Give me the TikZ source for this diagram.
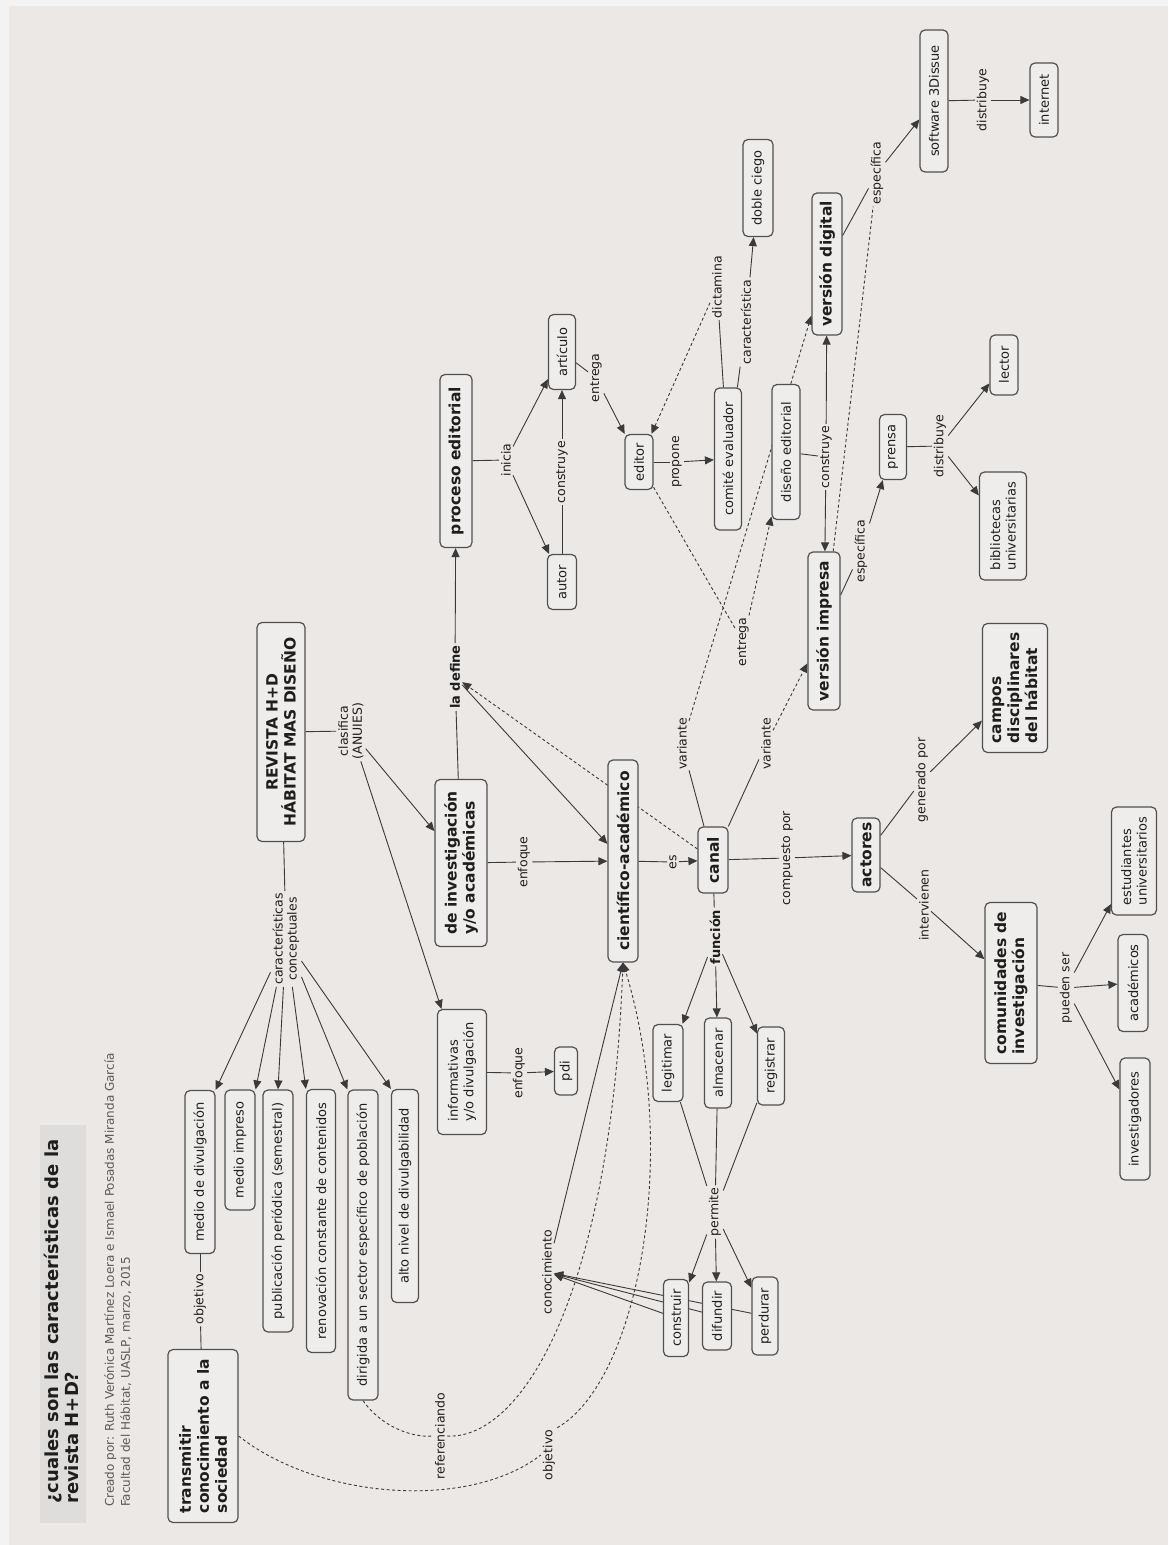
\documentclass[tikz,border=0pt]{standalone}
\usepackage{fontspec}
\setmainfont{DejaVu Sans}
\usetikzlibrary{arrows.meta}
\pgfdeclarelayer{back}
\pgfdeclarelayer{edges}
\pgfsetlayers{back,edges,main}
\definecolor{outerbg}{HTML}{F3F3F3}
\definecolor{panel}{HTML}{EBE8E5}
\definecolor{boxfill}{HTML}{EEEDEB}
\definecolor{boxline}{HTML}{505050}
\definecolor{ink}{HTML}{1E1E1E}
\definecolor{lnk}{HTML}{3A3A3A}
\definecolor{titlebg}{HTML}{DFDDDB}
\definecolor{credit}{HTML}{5A5A5A}
\tikzset{
  concept/.style={draw=boxline, line width=1.2pt, rounded corners=5pt, fill=boxfill, rotate=90, text=ink, font=\fontsize{13}{15.5}\selectfont, align=center, inner sep=0pt},
  bconcept/.style={concept, font=\fontsize{15.5}{18}\selectfont\bfseries},
  lab/.style={rotate=90, text=ink, font=\fontsize{12.5}{14}\selectfont, align=center, inner sep=2pt},
  blab/.style={lab, font=\fontsize{13}{15}\selectfont\bfseries},
  ln/.style={draw=lnk, line width=0.9pt},
  arr/.style={ln, -{Triangle[length=9pt,width=8pt]}},
  dsh/.style={dash pattern=on 3pt off 2.5pt},
}
\begin{document}
\begin{tikzpicture}[x=1pt,y=-1pt]
\useasboundingbox (0,0) rectangle (1168,1545);
\begin{pgfonlayer}{back}
\fill[outerbg] (0,0) rectangle (1168,1545);
\fill[panel] (9,6) rectangle (1168,1545);
\fill[titlebg] (40,1125) rectangle (86,1523);
\end{pgfonlayer}

% title and credits
\node[rotate=90, anchor=north west, align=left, font=\fontsize{18}{20}\selectfont\bfseries, inner sep=0pt, text=ink] (title) at (44,1504) {¿cuales son las características de la\\revista H+D?};
\node[rotate=90, anchor=north west, align=left, font=\fontsize{12}{16}\selectfont, inner sep=0pt, text=credit] (cred) at (104,1507) {Creado por: Ruth Verónica Martínez Loera e Ismael Posadas Miranda García\\Facultad del Hábitat, UASLP, marzo, 2015};

% concepts
\node[bconcept, align=left, minimum width=173pt, minimum height=70pt] (tr) at (203,1436) {transmitir\\conocimiento a la\\sociedad};
\node[concept, minimum width=163pt, minimum height=30pt] (md) at (200,1172) {medio de divulgación};
\node[concept, minimum width=120pt, minimum height=30pt] (mi) at (240,1150) {medio impreso};
\node[concept, minimum width=242pt, minimum height=30pt] (pp) at (278,1211) {publicación periódica (semestral)};
\node[concept, minimum width=263pt, minimum height=29pt] (rc) at (321,1221) {renovación constante de contenidos};
\node[concept, minimum width=310pt, minimum height=30pt] (dg) at (363,1245) {dirigida a un sector específico de población};
\node[concept, minimum width=213pt, minimum height=27pt] (an) at (405,1196) {alto nivel de divulgabilidad};

\node[bconcept, minimum width=219pt, minimum height=48pt] (RT) at (281,732) {REVISTA H+D\\HÁBITAT MAS DISEÑO};
\node[bconcept, align=left, minimum width=167pt, minimum height=52pt] (di) at (461,863) {de investigación\\y/o académicas};
\node[concept, align=left, minimum width=125pt, minimum height=49pt] (inf) at (462,1072) {informativas\\y/o divulgación};
\node[concept, minimum width=48pt, minimum height=23pt] (pdi) at (566,1071) {pdi};
\node[bconcept, minimum width=202pt, minimum height=30pt] (ca) at (623,861) {científico-académico};
\node[bconcept, minimum width=66pt, minimum height=30pt] (canal) at (713,860) {canal};
\node[bconcept, minimum width=173pt, minimum height=32pt] (pe) at (456,461) {proceso editorial};
\node[concept, minimum width=55pt, minimum height=29pt] (autor) at (562,582) {autor};
\node[concept, minimum width=75pt, minimum height=27pt] (art) at (562,352) {artículo};
\node[concept, minimum width=55pt, minimum height=28pt] (ed) at (639,462) {editor};
\node[concept, minimum width=142pt, minimum height=27pt] (ce) at (728,459) {comité evaluador};
\node[concept, minimum width=97pt, minimum height=30pt] (dc) at (758,188) {doble ciego};
\node[concept, minimum width=135pt, minimum height=28pt] (de) at (786,452) {diseño editorial};
\node[bconcept, minimum width=158pt, minimum height=32pt] (vi) at (824,631) {versión impresa};
\node[bconcept, minimum width=142pt, minimum height=30pt] (vd) at (827,264) {versión digital};
\node[concept, minimum width=142pt, minimum height=28pt] (sw) at (934,101) {software 3Dissue};
\node[concept, minimum width=74pt, minimum height=28pt] (int) at (1044,100) {internet};
\node[concept, minimum width=65pt, minimum height=27pt] (pr) at (893,447) {prensa};
\node[concept, minimum width=60pt, minimum height=28pt] (lec) at (1004,365) {lector};
\node[concept, align=left, minimum width=108pt, minimum height=47pt] (bib) at (1003,526) {bibliotecas\\universitarias};
\node[bconcept, align=left, minimum width=129pt, minimum height=65pt] (cd) at (1015,688) {campos\\disciplinares\\del hábitat};
\node[bconcept, minimum width=74pt, minimum height=28pt] (act) at (866,855) {actores};
\node[bconcept, align=left, minimum width=161pt, minimum height=52pt] (com) at (1011,983) {comunidades de\\investigación};
\node[concept, align=left, minimum width=108pt, minimum height=45pt] (est) at (1134,861) {estudiantes\\universitarios};
\node[concept, minimum width=97pt, minimum height=30pt] (aca) at (1133,983) {académicos};
\node[concept, minimum width=122pt, minimum height=30pt] (inv) at (1135,1119) {investigadores};
\node[concept, minimum width=77pt, minimum height=30pt] (leg) at (668,1063) {legitimar};
\node[concept, minimum width=90pt, minimum height=27pt] (alm) at (718,1063) {almacenar};
\node[concept, minimum width=78pt, minimum height=27pt] (reg) at (771,1066) {registrar};
\node[concept, minimum width=77pt, minimum height=25pt] (cons) at (676,1318) {construir};
\node[concept, minimum width=68pt, minimum height=29pt] (dif) at (717,1316) {difundir};
\node[concept, minimum width=78pt, minimum height=26pt] (per) at (765,1316) {perdurar};

% linking phrases
\node[lab] (obj1) at (200,1299) {objetivo};
\node[lab] (carcon) at (286,939) {características\\conceptuales};
\node[lab] (clas) at (351,731) {clasifica\\(ANUIES)};
\node[lab] (enf1) at (524,862) {enfoque};
\node[lab] (enf2) at (519,1073) {enfoque};
\node[blab] (ladef) at (455,677) {la define};
\node[lab] (es) at (673,862) {es};
\node[lab] (inicia) at (506,460) {inicia};
\node[lab] (cons1) at (562,472) {construye};
\node[lab] (ent1) at (596,378) {entrega};
\node[lab] (prop) at (677,462) {propone};
\node[lab] (dict) at (717,287) {dictamina};
\node[lab] (car) at (746,322) {característica};
\node[lab] (ent2) at (743,642) {entrega};
\node[lab] (cons2) at (826,457) {construye};
\node[lab] (var1) at (682,744) {variante};
\node[lab] (var2) at (766,744) {variante};
\node[lab] (esp1) at (877,173) {específica};
\node[lab] (esp2) at (861,551) {específica};
\node[lab] (dist1) at (983,100) {distribuye};
\node[lab] (dist2) at (940,446) {distribuye};
\node[lab] (comp) at (787,858) {compuesto por};
\node[lab] (gen) at (922,780) {generado por};
\node[lab] (intv) at (924,905) {intervienen};
\node[lab] (pue) at (1066,988) {pueden ser};
\node[blab] (func) at (715,937) {función};
\node[lab] (perm) at (715,1212) {permite};
\node[lab] (conoc) at (547,1272) {conocimiento};
\node[lab] (ref) at (440,1436) {referenciando};
\node[lab] (obj2) at (549,1455) {objetivo};

\begin{pgfonlayer}{edges}
\draw[ln] (tr) -- (obj1);
\draw[ln] (obj1) -- (md);
\draw[ln] (RT) -- (carcon);
\foreach \t/\a in {md/south east, mi/south east, pp/east, rc/north east, dg/north east, an/north east}
  \draw[arr] (carcon) -- (\t.\a);
\draw[ln] (RT) -- (clas);
\draw[arr] (clas) -- (di);
\draw[arr] (clas) -- (inf);
\draw[ln] (inf) -- (enf2); \draw[arr] (enf2) -- (pdi);
\draw[ln] (di) -- (enf1); \draw[arr] (enf1) -- (ca);
\draw[ln] (di) -- (ladef); \draw[arr] (ladef) -- (pe);
\draw[arr] (ladef) -- (ca);
\draw[arr,dsh] (canal) -- (ladef);
\draw[ln] (ca) -- (es); \draw[arr] (es) -- (canal);
\draw[ln] (pe) -- (inicia); \draw[arr] (inicia) -- (autor); \draw[arr] (inicia) -- (art);
\draw[ln] (autor) -- (cons1); \draw[arr] (cons1) -- (art);
\draw[ln] (art) -- (ent1); \draw[arr] (ent1) -- (ed);
\draw[ln] (ed) -- (prop); \draw[arr] (prop) -- (ce);
\draw[ln] (ce) -- (dict); \draw[arr,dsh] (dict) -- (ed);
\draw[ln] (ce) -- (car); \draw[arr] (car) -- (dc);
\draw[ln,dsh] (ed) -- (ent2); \draw[arr,dsh] (ent2) -- (de);
\draw[ln] (de) -- (cons2); \draw[arr] (cons2) -- (vi); \draw[arr] (cons2) -- (vd);
\draw[ln] (canal) -- (var1); \draw[arr,dsh] (var1) -- (vd);
\draw[ln] (canal) -- (var2); \draw[arr,dsh] (var2) -- (vi);
\draw[ln] (vd) -- (esp1); \draw[ln,dsh] (vi) -- (esp1); \draw[arr] (esp1) -- (sw);
\draw[ln] (sw) -- (dist1); \draw[arr] (dist1) -- (int);
\draw[ln] (vi) -- (esp2); \draw[arr] (esp2) -- (pr);
\draw[ln] (pr) -- (dist2); \draw[arr] (dist2) -- (lec); \draw[arr] (dist2) -- (bib);
\draw[ln] (canal) -- (comp); \draw[arr] (comp) -- (act);
\draw[ln] (act) -- (gen); \draw[arr] (gen) -- (cd);
\draw[ln] (act) -- (intv); \draw[arr] (intv) -- (com);
\draw[ln] (com) -- (pue);
\draw[arr] (pue) -- (est); \draw[arr] (pue) -- (aca); \draw[arr] (pue) -- (inv);
\draw[ln] (canal) -- (func);
\draw[arr] (func) -- (leg); \draw[arr] (func) -- (alm); \draw[arr] (func) -- (reg);
\draw[ln] (leg) -- (perm); \draw[ln] (alm) -- (perm); \draw[ln] (reg) -- (perm);
\draw[arr] (perm) -- (cons); \draw[arr] (perm) -- (dif); \draw[arr] (perm) -- (per);
\draw[arr] (cons) -- (conoc); \draw[arr] (dif) -- (conoc); \draw[arr] (per) -- (conoc);
\draw[arr] (conoc) -- (ca.west);
\draw[ln,dsh] (dg.west) .. controls (380,1425) and (410,1438) .. (ref.north);
\draw[arr,dsh] (ref.south) .. controls (520,1440) and (610,1300) .. (ca.west);
\draw[ln,dsh] (tr.south) .. controls (320,1500) and (470,1510) .. (obj2.north);
\draw[arr,dsh] (obj2.south east) .. controls (640,1380) and (680,1150) .. (ca.west);
\end{pgfonlayer}
\end{tikzpicture}
\end{document}
